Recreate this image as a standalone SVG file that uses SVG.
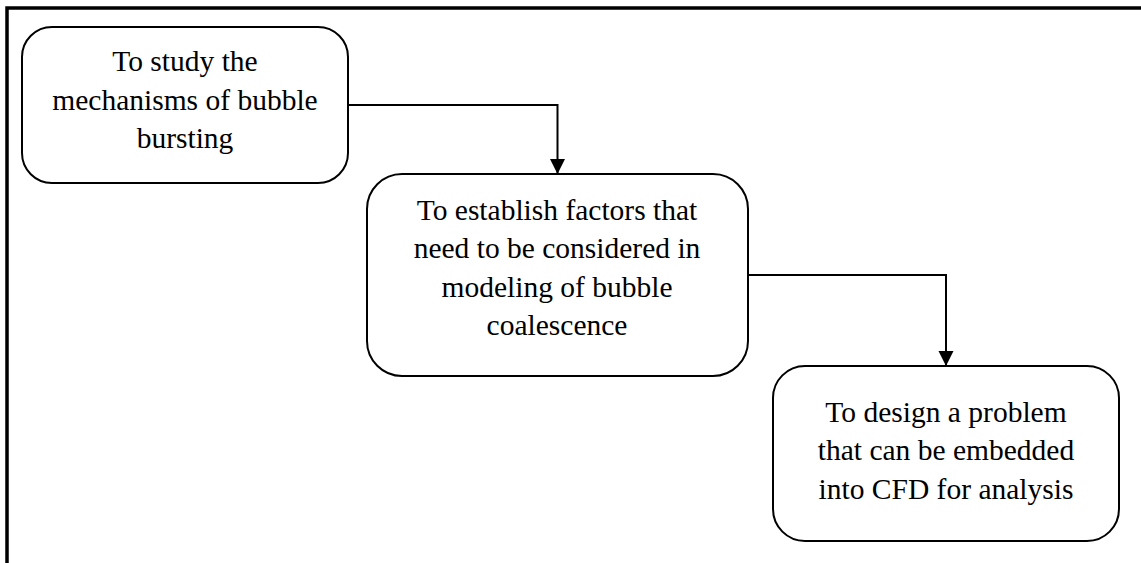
<svg xmlns="http://www.w3.org/2000/svg" width="1141" height="563" viewBox="0 0 1141 563">
  <style>
    .node rect { fill: #ffffff; stroke: #000000; stroke-width: 2; }
    .node text { font-family: "Liberation Serif", "Times New Roman", serif; font-size: 29.5px; fill: #000000; text-anchor: middle; }
    .frame { fill: none; stroke: #000000; stroke-width: 3.5; }
    .edge { fill: none; stroke: #000000; stroke-width: 2; marker-end: url(#arrow); }
  </style>
  <defs>
    <marker id="arrow" markerWidth="16" markerHeight="16" refX="15" refY="8" orient="auto" markerUnits="userSpaceOnUse">
      <path d="M0,0.5 L15,8 L0,15.5 Z" fill="#000000"/>
    </marker>
  </defs>

  <rect x="0" y="0" width="1141" height="563" fill="#ffffff"/>

  <!-- page frame: top and left rules -->
  <path class="frame" d="M7,563 L7,8 L1141,8"/>

  <g id="connectors">
    <path class="edge" d="M348,105 L557.5,105 L557.5,174"/>
    <path class="edge" d="M748,275 L946,275 L946,366"/>
  </g>

  <g id="node-study" class="node">
    <rect x="22" y="27" width="326" height="156" rx="30" ry="30"/>
    <text x="185" y="71">To study the</text>
    <text x="185" y="110">mechanisms of bubble</text>
    <text x="185" y="148">bursting</text>
  </g>

  <g id="node-establish" class="node">
    <rect x="367" y="174" width="381" height="202" rx="35" ry="35"/>
    <text x="557" y="220">To establish factors that</text>
    <text x="557" y="258">need to be considered in</text>
    <text x="557" y="297">modeling of bubble</text>
    <text x="557" y="335">coalescence</text>
  </g>

  <g id="node-design" class="node">
    <rect x="773" y="366" width="346" height="175" rx="32" ry="32"/>
    <text x="946" y="422">To design a problem</text>
    <text x="946" y="460">that can be embedded</text>
    <text x="946" y="499">into CFD for analysis</text>
  </g>
</svg>
